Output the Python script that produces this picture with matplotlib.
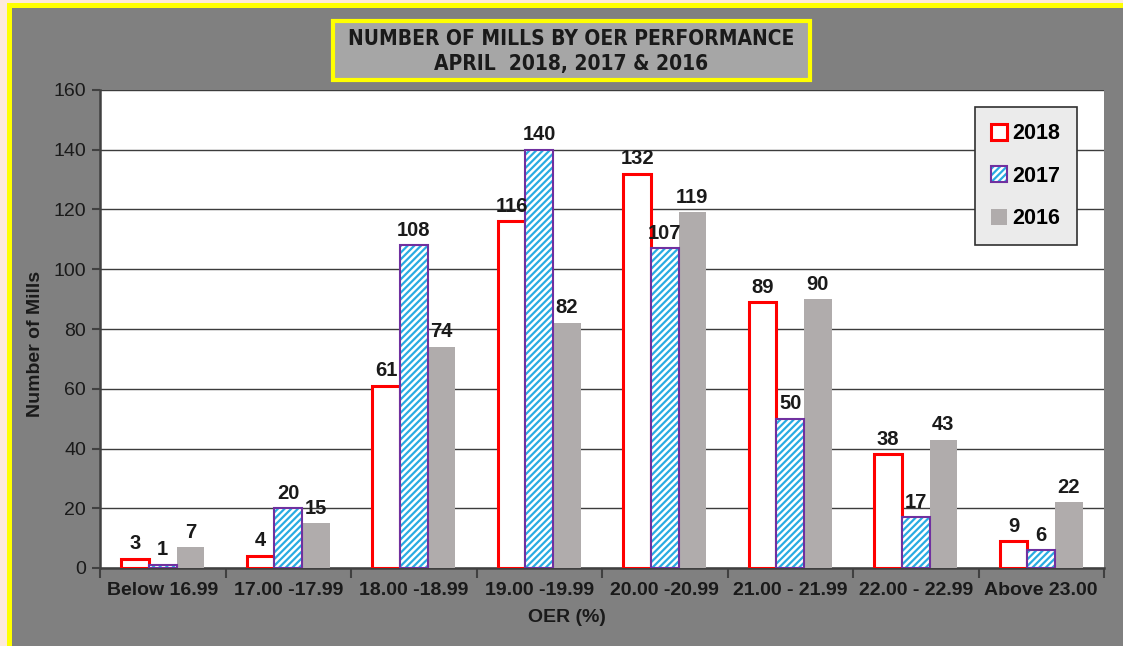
import numpy as np
import matplotlib
matplotlib.use("Agg")
import matplotlib.pyplot as plt
from matplotlib.patches import Rectangle, Patch

# ---- data ----
categories = ["Below 16.99", "17.00 -17.99", "18.00 -18.99", "19.00 -19.99",
              "20.00 -20.99", "21.00 - 21.99", "22.00 - 22.99", "Above 23.00"]
mills_2018 = [3, 4, 61, 116, 132, 89, 38, 9]
mills_2017 = [1, 20, 108, 140, 107, 50, 17, 6]
mills_2016 = [7, 15, 74, 82, 119, 90, 43, 22]
y_ticks = [0, 20, 40, 60, 80, 100, 120, 140, 160]

BG = "#808080"
YELLOW = "#FFFF00"
PEACH = "#FDEADB"
RED = "#FF0000"
PURPLE = "#7030A0"
SKY = "#29ABE2"
GREY16 = "#B0ACAC"
INK = "#1a1a1a"

plt.rcParams.update({
    "font.family": ["Liberation Sans", "DejaVu Sans"],
    "hatch.linewidth": 1.6,
})

fig = plt.figure(figsize=(11.23, 6.46), dpi=100)
fig.patch.set_facecolor(BG)

# outer frame: peach strip + yellow border (top and left)
fig.patches.append(Rectangle((0, 0), 7 / 1123, 1, transform=fig.transFigure,
                             facecolor=PEACH, edgecolor="none", zorder=0))
fig.patches.append(Rectangle((0, 1 - 3 / 646), 1, 3 / 646, transform=fig.transFigure,
                             facecolor=PEACH, edgecolor="none", zorder=0))
fig.patches.append(Rectangle((7 / 1123, 0), 5 / 1123, 1 - 3 / 646, transform=fig.transFigure,
                             facecolor=YELLOW, edgecolor="none", zorder=1))
fig.patches.append(Rectangle((7 / 1123, 1 - 8 / 646), 1, 5 / 646, transform=fig.transFigure,
                             facecolor=YELLOW, edgecolor="none", zorder=1))

ax = fig.add_axes([100 / 1123, 78 / 646, 1004 / 1123, 478 / 646])
ax.set_facecolor("white")

x = np.arange(len(categories))
w = 0.22

b18 = ax.bar(x - w, mills_2018, w, facecolor="white", edgecolor=RED,
             linewidth=2.2, zorder=3)
ax.bar(x, mills_2017, w, facecolor="white", edgecolor=SKY, hatch="/////",
       linewidth=0, zorder=3)
b17 = ax.bar(x, mills_2017, w, facecolor="none", edgecolor=PURPLE,
             linewidth=1.5, zorder=4)
b16 = ax.bar(x + w, mills_2016, w, facecolor=GREY16, edgecolor="none", zorder=3)

for bars, vals in ((b18, mills_2018), (b17, mills_2017), (b16, mills_2016)):
    for r, v in zip(bars, vals):
        ax.annotate(str(v), (r.get_x() + r.get_width() / 2, v),
                    xytext=(0, 4), textcoords="offset points",
                    ha="center", va="bottom", fontsize=14.5, fontweight="bold",
                    color=INK, zorder=6)

ax.set_xlim(-0.5, len(categories) - 0.5)
ax.set_ylim(0, 160)
ax.set_yticks(y_ticks)
ax.tick_params(axis="y", labelsize=14, labelcolor=INK, color="#404040",
               length=6, width=1.5, direction="out", pad=4)
ax.grid(axis="y", color="#3c3c3c", linewidth=1.0, zorder=1)
ax.set_axisbelow(True)

# category boundaries carry the x ticks, labels sit at the centres
ax.set_xticks(np.arange(len(categories) + 1) - 0.5)
ax.set_xticklabels([])
ax.set_xticks(x, minor=True)
ax.set_xticklabels(categories, minor=True, fontsize=14, fontweight="bold", color=INK)
ax.tick_params(axis="x", which="major", length=7, width=1.5, color="#404040")
ax.tick_params(axis="x", which="minor", length=0, pad=10)

for s in ("top", "right"):
    ax.spines[s].set_visible(False)
for s in ("left", "bottom"):
    ax.spines[s].set_color("#404040")
    ax.spines[s].set_linewidth(1.8)

fig.text(36 / 1123, 1 - 344 / 646, "Number of Mills", rotation=90, ha="center",
         va="center", fontsize=14, fontweight="bold", color=INK)
fig.text(567 / 1123, 1 - 618 / 646, "OER (%)", ha="center", va="center",
         fontsize=14, fontweight="bold", color=INK)

# title box
fig.patches.append(Rectangle((333 / 1123, 1 - 80 / 646), 477 / 1123, 59 / 646,
                             transform=fig.transFigure, facecolor="#A6A6A6",
                             edgecolor=YELLOW, linewidth=3, zorder=2))
for ty, line in ((39, "NUMBER OF MILLS BY OER PERFORMANCE"),
                 (64, "APRIL  2018, 2017 & 2016")):
    fig.text(571 / 1123, 1 - ty / 646, line, ha="center", va="center",
             fontsize=15, fontweight="bold", fontstretch="condensed", color=INK,
             family=["DejaVu Sans"], zorder=3)

# legend
h18 = Patch(facecolor="white", edgecolor=RED, linewidth=2.2)
h17 = (Patch(facecolor="white", edgecolor=SKY, hatch="/////", linewidth=0),
       Patch(facecolor="none", edgecolor=PURPLE, linewidth=1.5))
h16 = Patch(facecolor=GREY16, edgecolor="none")
leg = ax.legend([h18, h17, h16], ["2018", "2017", "2016"],
                loc="upper left", bbox_to_anchor=(975 / 1123, 1 - 107 / 646),
                bbox_transform=fig.transFigure, frameon=True, fancybox=False,
                handlelength=0.75, handleheight=0.75, handletextpad=0.25,
                labelspacing=1.0, borderpad=0.75, borderaxespad=0,
                prop={"size": 15.5, "weight": "bold"})
leg.get_frame().set_facecolor("#EBEBEB")
leg.get_frame().set_edgecolor("#303030")
leg.get_frame().set_linewidth(1.2)
leg.get_frame().set_alpha(1)
leg.set_zorder(10)

fig.savefig("out.png", dpi=100, facecolor=BG)
